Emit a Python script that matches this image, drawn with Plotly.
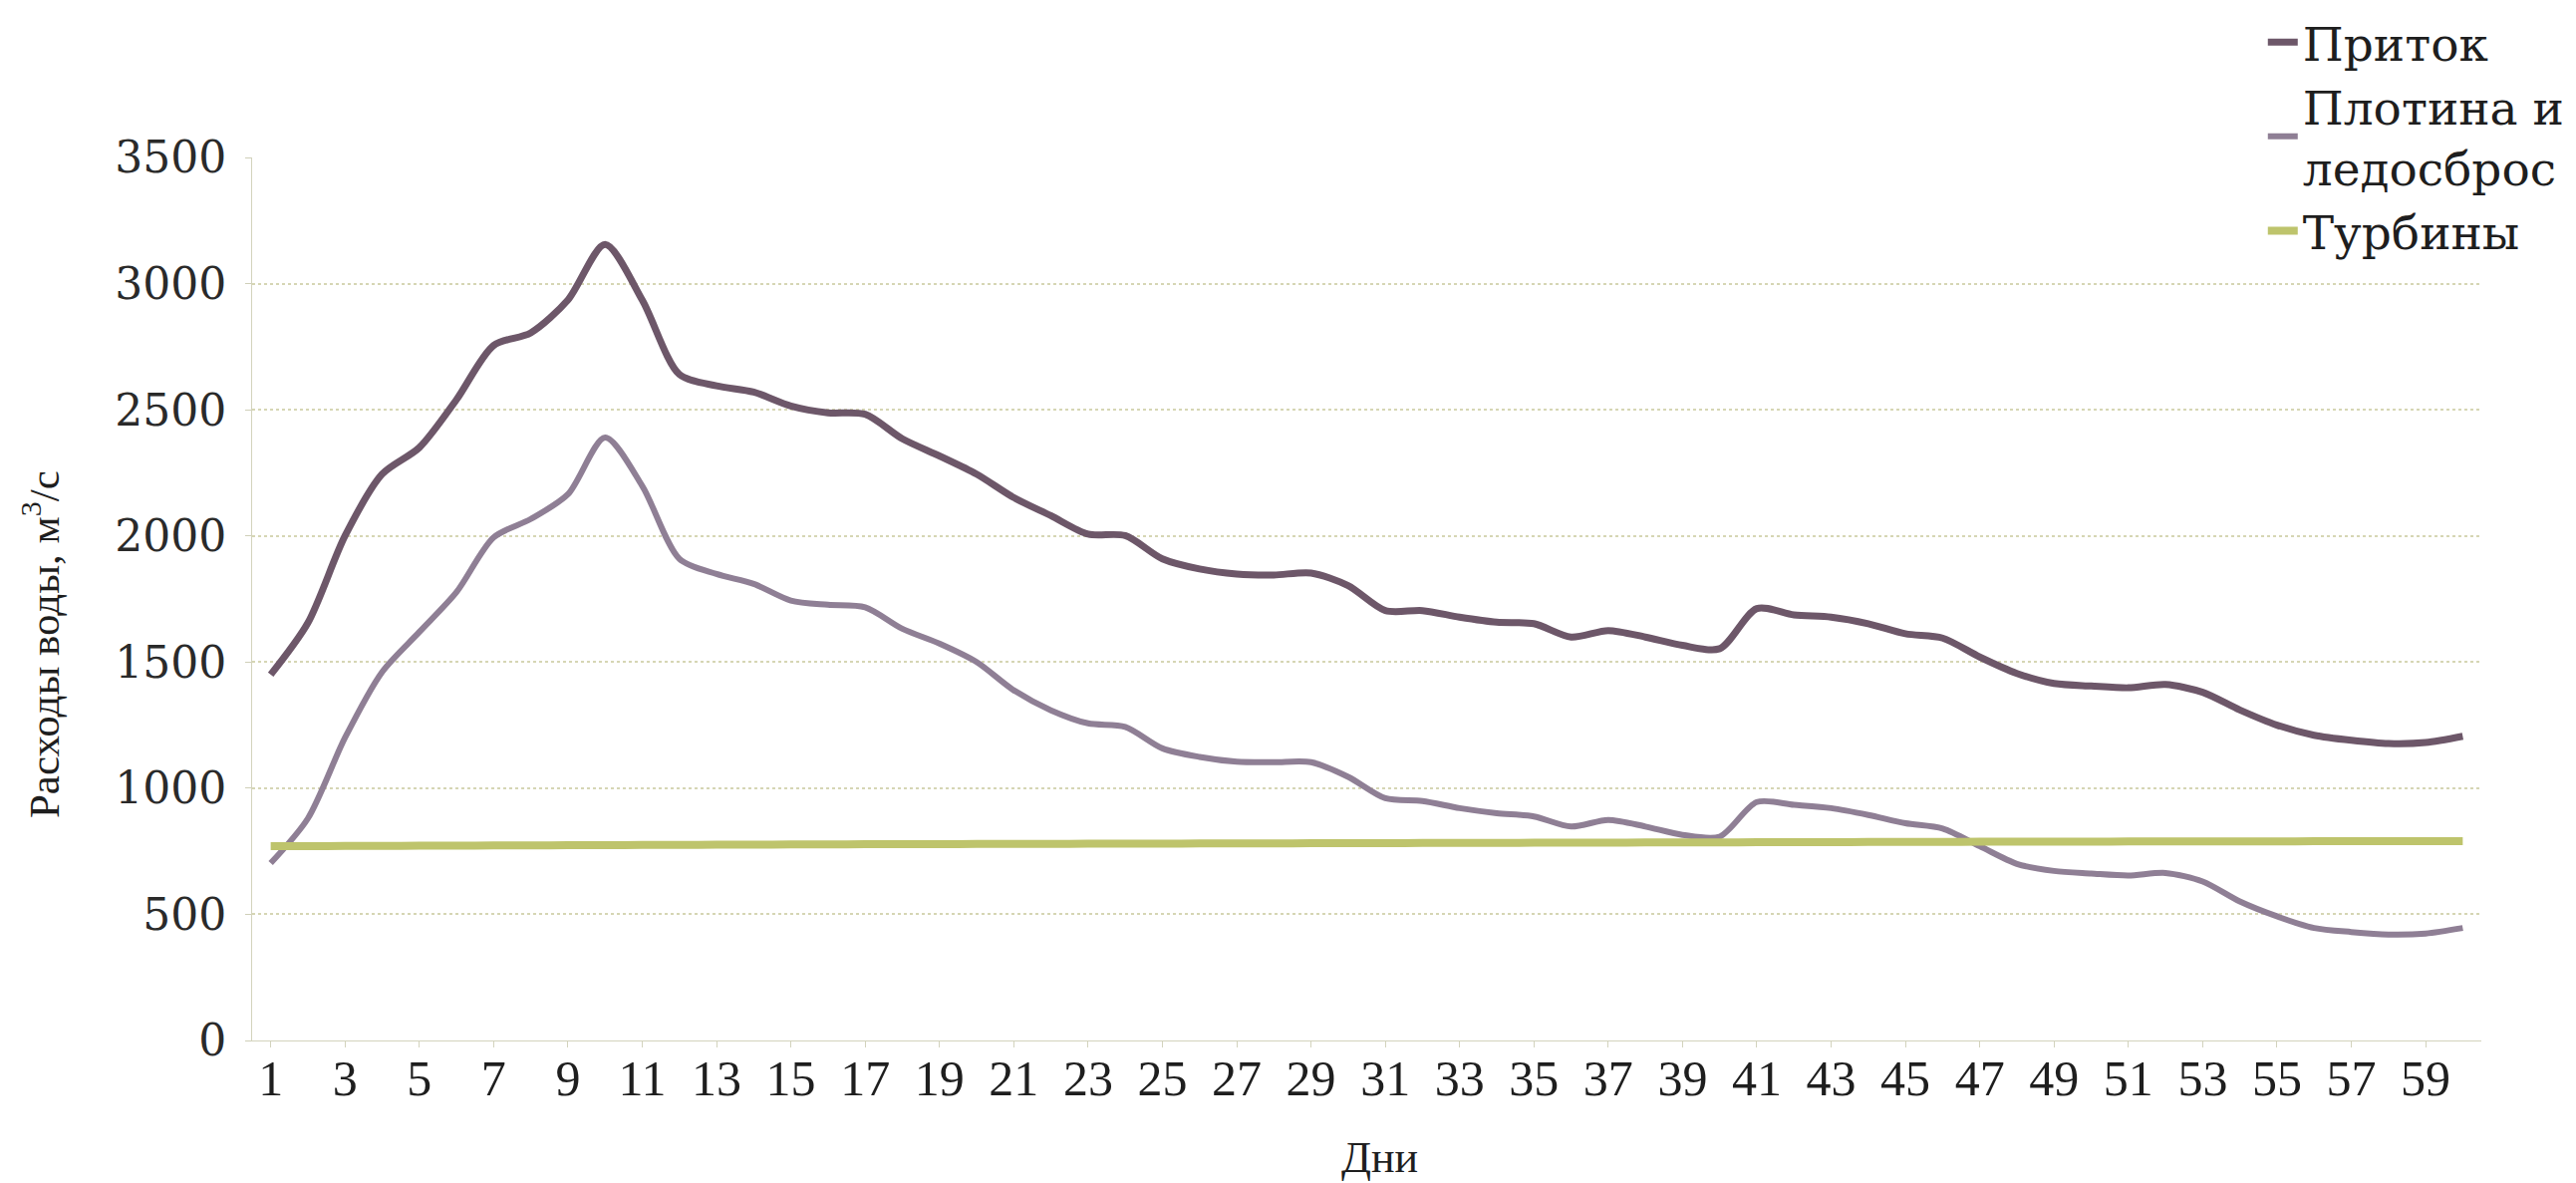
import plotly.graph_objects as go

days = list(range(1, 61))

pritok = [1450, 1655, 2000, 2245, 2350, 2540, 2755, 2805, 2935, 3155,
          2935, 2640, 2595, 2570, 2515, 2488, 2482, 2385, 2317, 2245,
          2152, 2080, 2007, 2001, 1909, 1869, 1849, 1845, 1853, 1803,
          1704, 1704, 1678, 1658, 1652, 1599, 1625, 1599, 1566, 1553,
          1712, 1687, 1678, 1652, 1612, 1595, 1520, 1455, 1415, 1405,
          1398, 1411, 1380, 1310, 1250, 1210, 1190, 1177, 1181, 1206]

plotina = [703, 880, 1200, 1461, 1619, 1777, 1994, 2067, 2165, 2390,
           2198, 1909, 1849, 1810, 1744, 1727, 1717, 1632, 1573, 1500,
           1388, 1309, 1257, 1243, 1158, 1124, 1105, 1103, 1103, 1045,
           960, 949, 921, 901, 888, 848, 874, 848, 815, 808,
           945, 934, 921, 894, 861, 840, 770, 700, 672, 662,
           654, 664, 630, 551, 492, 446, 430, 420, 424, 446]

turbiny = [770, 770, 771, 771, 772, 772, 773, 773, 774, 774,
           775, 775, 776, 776, 777, 777, 778, 778, 778, 779,
           779, 779, 780, 780, 780, 781, 781, 781, 782, 782,
           782, 783, 783, 783, 784, 784, 784, 785, 785, 785,
           786, 786, 786, 787, 787, 787, 788, 788, 788, 788,
           789, 789, 789, 789, 789, 790, 790, 790, 790, 790]

x_ticks = list(range(1, 60, 2))
x_ticktext = [str(v) for v in x_ticks]
y_ticks = [0, 500, 1000, 1500, 2000, 2500, 3000, 3500]

names = ["Приток", "Плотина и<br>ледосброс", "Турбины"]
colors = ["#6d5769", "#8f7f95", "#bec46c"]
y_title = "Расходы воды, м<sup>3</sup>/с"
x_title = "Дни"

fig = go.Figure()
fig.add_trace(go.Scatter(x=days, y=pritok, mode="lines", name=names[0],
                         line=dict(color=colors[0], width=7, shape="spline", smoothing=0.8)))
fig.add_trace(go.Scatter(x=days, y=plotina, mode="lines", name=names[1],
                         line=dict(color=colors[1], width=6, shape="spline", smoothing=0.8)))
fig.add_trace(go.Scatter(x=days, y=turbiny, mode="lines", name=names[2],
                         line=dict(color=colors[2], width=8, shape="spline", smoothing=0.8)))

serif = "Liberation Serif"
fig.update_layout(
    width=2585, height=1187,
    margin=dict(l=245, r=103, t=150, b=151, autoexpand=False),
    paper_bgcolor="white", plot_bgcolor="white",
    showlegend=True,
    legend=dict(x=0.902, y=1.1725, xanchor="left", yanchor="top",
                font=dict(family="DejaVu Serif", size=47, color="#1e1e1e"),
                bgcolor="rgba(0,0,0,0)", tracegroupgap=0, itemwidth=30),
    xaxis=dict(range=[0.5, 60.5], tickmode="array", tickvals=x_ticks, ticktext=x_ticktext,
               showgrid=False, zeroline=False, showline=True, linecolor="#d3d3bd", linewidth=1,
               ticks="outside", ticklen=6, tickcolor="#d3d3bd",
               tickfont=dict(family=serif, size=50, color="#1e1e1e"),
               ticklabelstandoff=-12, automargin=False),
    yaxis=dict(range=[0, 3500], tickmode="array", tickvals=y_ticks,
               showgrid=True, gridcolor="#d6d6b4", gridwidth=2, griddash="dot",
               zeroline=False, showline=True, linecolor="#d3d3bd", linewidth=1,
               ticks="outside", ticklen=6, tickcolor="#cfcfb8",
               tickfont=dict(family="DejaVu Serif", size=44, color="#2a2a2a"),
               ticklabelstandoff=10, automargin=False),
    annotations=[
        dict(text=y_title, xref="paper", yref="paper", x=-0.0948, y=0.449,
             xanchor="center", yanchor="middle", textangle=-90, showarrow=False,
             font=dict(family=serif, size=43, color="#1e1e1e")),
        dict(text=x_title, xref="paper", yref="paper", x=0.5056, y=-0.133,
             xanchor="center", yanchor="middle", showarrow=False,
             font=dict(family=serif, size=44, color="#1e1e1e")),
    ],
)

fig.write_html("out.html")
